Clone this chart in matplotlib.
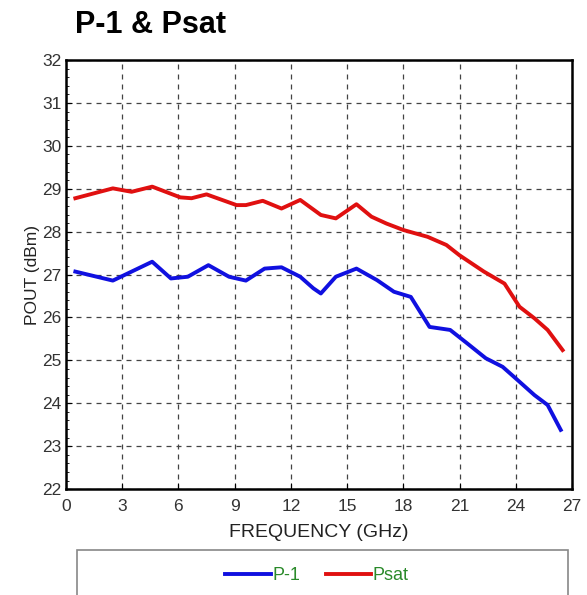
import matplotlib.pyplot as plt
from matplotlib.patches import Rectangle
from matplotlib.ticker import MultipleLocator

plt.rcParams['font.family'] = ['Liberation Sans', 'DejaVu Sans']

# datos
freq_p1 = [0.5, 2.5, 4.6, 5.6, 6.5, 7.6, 8.7, 9.6, 10.6, 11.5, 12.5, 13.2, 13.6, 14.4,
           15.5, 16.6, 17.5, 18.4, 19.4, 20.5, 21.4, 22.4, 23.3, 24.0, 25.0, 25.7, 26.4]
p1 = [27.07, 26.86, 27.30, 26.91, 26.95, 27.22, 26.95, 26.86, 27.14, 27.17, 26.95, 26.68,
      26.56, 26.95, 27.14, 26.87, 26.60, 26.48, 25.78, 25.71, 25.40, 25.05, 24.85, 24.58,
      24.19, 23.96, 23.38]

freq_psat = [0.5, 2.5, 3.5, 4.6, 6.1, 6.7, 7.5, 9.1, 9.6, 10.5, 11.5, 12.5, 13.6, 14.4,
             15.5, 16.3, 17.1, 18.0, 19.3, 20.3, 21.0, 22.3, 23.4, 24.2, 25.0, 25.7, 26.5]
psat = [28.78, 29.01, 28.93, 29.05, 28.80, 28.78, 28.87, 28.62, 28.62, 28.72, 28.54, 28.74,
        28.39, 28.31, 28.64, 28.35, 28.19, 28.04, 27.88, 27.69, 27.45, 27.07, 26.79, 26.25,
        25.98, 25.71, 25.24]

xticks = [0, 3, 6, 9, 12, 15, 18, 21, 24, 27]
yticks = list(range(22, 33))

fig = plt.figure(figsize=(5.87, 5.95), dpi=100)
ax = fig.add_axes([0.1124, 0.178, 0.862, 0.721])

ax.plot(freq_p1, p1, color='#1010e0', lw=2.8, label='P-1', solid_joinstyle='round')
ax.plot(freq_psat, psat, color='#e01010', lw=2.8, label='Psat', solid_joinstyle='round')

ax.set_xlim(0, 27)
ax.set_ylim(22, 32)
ax.set_xticks(xticks)
ax.set_yticks(yticks)
ax.yaxis.set_minor_locator(MultipleLocator(0.2))
ax.tick_params(axis='both', which='major', direction='in', length=4, labelsize=12.5,
               labelcolor='#333333')
ax.tick_params(axis='x', which='major', pad=7)
ax.tick_params(axis='y', which='major', pad=3)
ax.tick_params(axis='y', which='minor', direction='in', length=2)
ax.grid(True, linestyle=(0, (4, 4)), color='#444444', lw=0.9)
for s in ax.spines.values():
    s.set_linewidth(1.8)

ax.set_xlabel('FREQUENCY (GHz)', fontsize=14, color='#222222', labelpad=7)
ax.set_ylabel('POUT (dBm)', fontsize=12.5, color='#222222', labelpad=2)

fig.text(0.128, 0.958, 'P-1 & Psat', fontsize=22, fontweight='bold', ha='left', va='center')

# caja de la leyenda (cortada por abajo)
fig.patches.append(Rectangle((0.131, -0.05), 0.837, 0.1256, transform=fig.transFigure,
                             fill=False, edgecolor='#888888', lw=1.2))
leg = fig.legend(loc='center', bbox_to_anchor=(0.54, 0.032), ncol=2, frameon=False,
                 fontsize=13, handlelength=2.5, columnspacing=1.4, handletextpad=0.1)
for t in leg.get_texts():
    t.set_color('#2a8a2a')

fig.savefig('out.png', dpi=100)
